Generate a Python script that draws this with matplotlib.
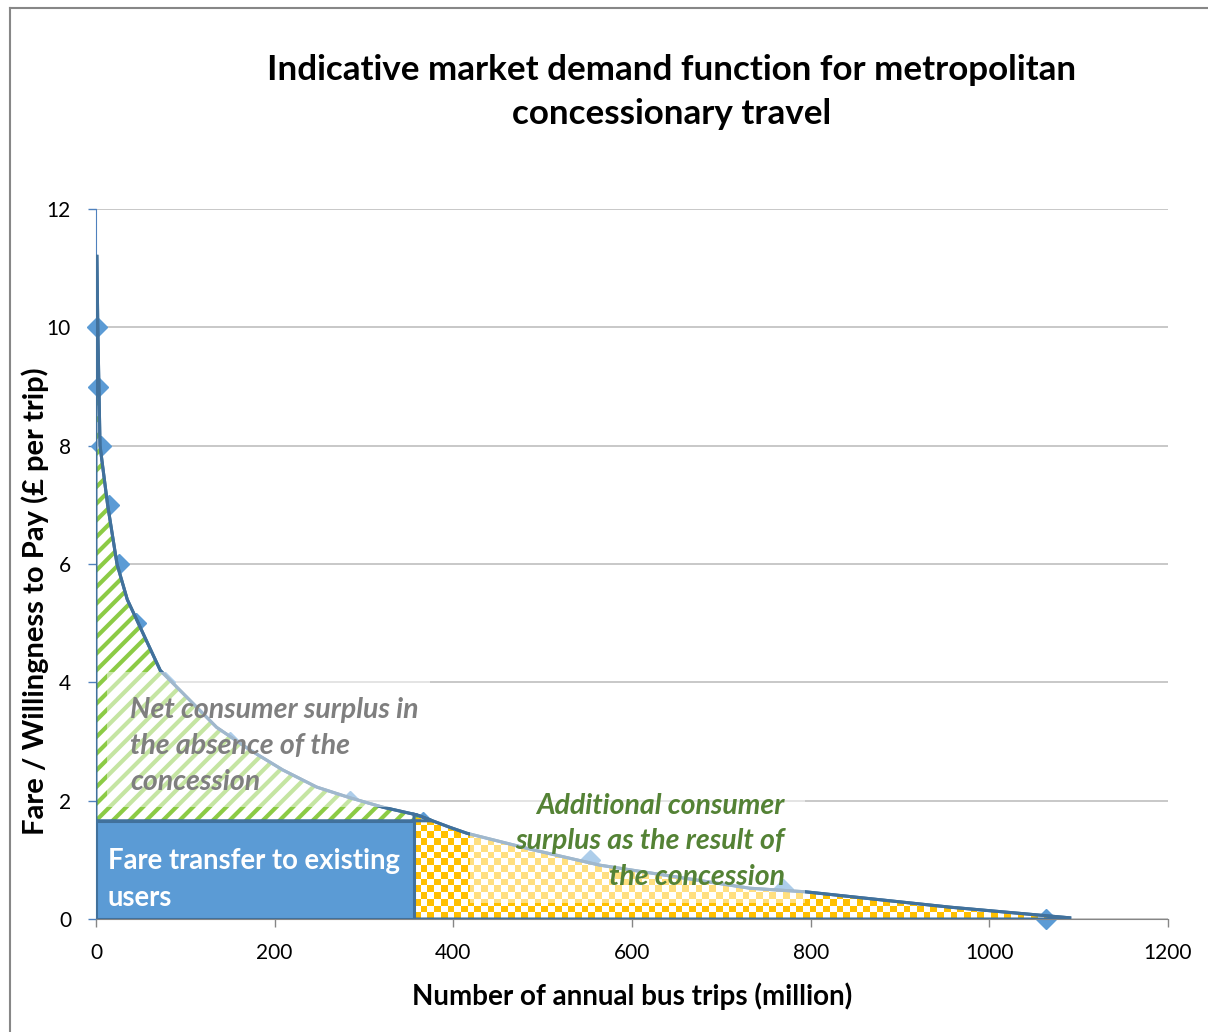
import matplotlib
matplotlib.use("Agg")
import matplotlib.pyplot as plt
from matplotlib.patches import Polygon, Rectangle
from matplotlib.lines import Line2D
import numpy as np

plt.rcParams['font.family'] = ['Lato', 'DejaVu Sans']
plt.rcParams['hatch.linewidth'] = 3.0

# demand curve as drawn (trips in million, fare in £)
curve_x = [1, 2, 4.5, 13, 23.5, 35, 72, 97, 135, 172, 209, 247, 284, 321, 359, 396,
           415, 489, 564, 732, 794, 881, 956, 1090]
curve_y = [11.2, 10.0, 8.0, 7.0, 6.0, 5.4, 4.2, 3.82, 3.24, 2.86, 2.52, 2.23, 2.05, 1.89,
           1.76, 1.55, 1.45, 1.17, 0.91, 0.52, 0.46, 0.32, 0.20, 0.02]

# observed points on the demand function
pts_x = [1, 2, 5.6, 14.5, 26, 45, 77, 150, 284, 366, 553, 769, 1063]
pts_y = [10, 9, 8, 7, 6, 5, 4, 3, 2, 1.64, 1.0, 0.5, 0]

fare = 1.66          # fare paid without the concession
existing_trips = 356  # trips made by existing users

xticks = [0, 200, 400, 600, 800, 1000, 1200]
yticks = [0, 2, 4, 6, 8, 10, 12]

line_col = '#41719C'
marker_col = '#5B9BD5'

fig = plt.figure(figsize=(12.08, 10.32), dpi=100)
ax = fig.add_axes([96/1208, 1 - 919/1032, (1168-96)/1208, (919-209)/1032])

cx = np.array(curve_x, dtype=float)
cy = np.array(curve_y, dtype=float)

# markers sit underneath the shaded areas
ax.plot(pts_x, pts_y, linestyle='none', marker='D', ms=10, color=marker_col,
        zorder=2, clip_on=False)

# consumer surplus without concession: left of curve, above the fare
above = cy >= fare
x_cut = np.interp(fare, cy[::-1], cx[::-1])
green_verts = [(0, fare), (0, cy[0])] + list(zip(cx[above], cy[above])) + [(x_cut, fare)]
ax.add_patch(Polygon(green_verts, closed=True, facecolor='white', edgecolor='#8CCB45',
                     hatch='//', linewidth=0, zorder=3))
ax.add_patch(Polygon(green_verts, closed=True, fill=False, edgecolor=line_col,
                     linewidth=2.2, zorder=4))

# additional surplus from the concession: under curve, right of existing trips
right = cx > existing_trips
y_start = np.interp(existing_trips, cx, cy)
yellow_verts = [(existing_trips, 0), (existing_trips, y_start)] + \
    list(zip(cx[right], cy[right])) + [(cx[-1], 0)]
yellow_poly = Polygon(yellow_verts, closed=True, fill=False, edgecolor=line_col,
                      linewidth=2.2, zorder=4)
ax.add_patch(yellow_poly)

# checkerboard fill clipped to the yellow area
nx, ny = 99, 15
ii, jj = np.meshgrid(np.arange(nx), np.arange(ny))
checker = ((ii + jj) % 2 == 0)
img = np.ones((ny, nx, 3))
img[checker] = np.array([255, 192, 0]) / 255
im = ax.imshow(img, extent=[existing_trips, existing_trips + nx * 7.5, 0, ny * 0.113],
               origin='lower', aspect='auto', interpolation='nearest', zorder=3)
im.set_clip_path(yellow_poly)

# fare transfer rectangle
ax.add_patch(Rectangle((0, 0), existing_trips, fare, facecolor=marker_col,
                       edgecolor=line_col, linewidth=2.2, zorder=4))

# demand line
ax.plot(cx, cy, color=line_col, lw=2.2, zorder=5, solid_joinstyle='round')

# translucent text boxes
ax.add_patch(Rectangle((12, 1.89), 362, 2.28, facecolor='white', alpha=0.5,
                       linewidth=0, zorder=6))
ax.add_patch(Rectangle((419, 0.27), 375, 2.05, facecolor='white', alpha=0.5,
                       linewidth=0, zorder=6))

ax.text(38, 2.93, 'Net consumer surplus in\nthe absence of the\nconcession',
        fontsize=20.5, fontweight='bold', fontstyle='italic', color='#7F7F7F',
        ha='left', va='center', linespacing=1.47, zorder=7)
ax.text(13.4, 0.67, 'Fare transfer to existing\nusers', fontsize=19.8,
        fontweight='bold', color='white', ha='left', va='center',
        linespacing=1.5, zorder=7)
ax.text(771, 1.31, 'Additional consumer\nsurplus as the result of\nthe concession',
        fontsize=20.5, fontweight='bold', fontstyle='italic', color='#548235',
        ha='right', va='center', multialignment='right', linespacing=1.47, zorder=7)

ax.set_xlim(0, 1200)
ax.set_ylim(0, 12)
ax.set_xticks(xticks)
ax.set_yticks(yticks)
ax.set_xticklabels([str(v) for v in xticks])
ax.set_yticklabels([str(v) for v in yticks])
ax.tick_params(axis='both', labelsize=15, color='#868686', length=6, width=1)
ax.tick_params(axis='x', pad=11)
ax.tick_params(axis='y', pad=12, color='#4F81BD')
ax.grid(axis='y', color='#BFBFBF', lw=1.2)
ax.set_axisbelow(True)
for s in ['top', 'right']:
    ax.spines[s].set_visible(False)
ax.spines['bottom'].set_color('#868686')
ax.spines['left'].set_color('#4F81BD')

fig.text(672/1208, 1 - 92/1032,
         'Indicative market demand function for metropolitan\nconcessionary travel',
         fontsize=25.2, fontweight='bold', ha='center', va='center', linespacing=1.47)
fig.text(632/1208, 1 - 996/1032, 'Number of annual bus trips (million)',
         fontsize=20, fontweight='bold', ha='center', va='center')
fig.text(35/1208, 1 - 601/1032, 'Fare / Willingness to Pay (£ per trip)',
         fontsize=21, fontweight='bold', ha='center', va='center', rotation=90)

# chart border
fig.add_artist(Line2D([10/1208, 10/1208], [0, 1 - 8/1032], color='#878787', lw=1.5))
fig.add_artist(Line2D([10/1208, 1], [1 - 8/1032, 1 - 8/1032], color='#878787', lw=1.5))

fig.savefig('out.png', dpi=100)
